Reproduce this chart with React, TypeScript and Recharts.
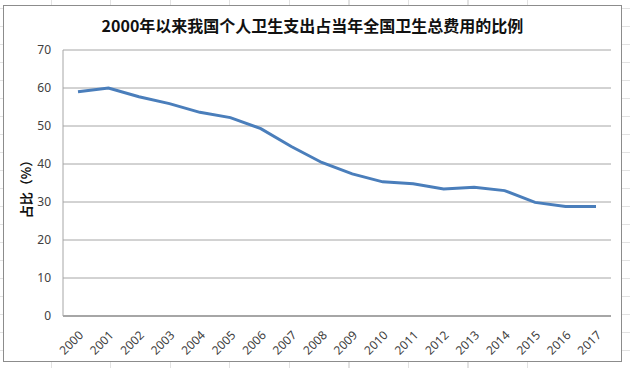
import { LineChart, Line, XAxis, YAxis, CartesianGrid } from 'recharts';

const years = ['2000', '2001', '2002', '2003', '2004', '2005', '2006', '2007', '2008', '2009', '2010', '2011', '2012', '2013', '2014', '2015', '2016', '2017'];
const shares = [59.0, 60.0, 57.7, 55.9, 53.6, 52.2, 49.3, 44.6, 40.4, 37.4, 35.3, 34.8, 33.4, 33.9, 33.0, 29.9, 28.8, 28.8];
const yTicks = [0, 10, 20, 30, 40, 50, 60, 70];

const data = years.map((year, i) => ({ year, share: shares[i] }));

const FONT = '"Noto Sans", "Noto Sans CJK SC", sans-serif';

// rotated year labels, Excel style
const YearTick = (props: any) => {
  const { x, y, payload } = props;
  const tx = x + 6;
  const ty = y + 12;
  return (
    <text
      x={tx}
      y={ty}
      transform={`rotate(-45, ${tx}, ${ty})`}
      textAnchor="end"
      fontSize={12}
      fill="#404040"
      fontFamily={FONT}
    >
      {payload.value}
    </text>
  );
};

export default function App() {
  return (
    <div
      style={{
        position: 'absolute',
        left: 0,
        top: 0,
        width: 630,
        height: 368,
        background: '#fff',
        backgroundImage:
          'repeating-linear-gradient(90deg, transparent 0 51px, #e2e2e2 51px 52px, transparent 52px 59.5px), repeating-linear-gradient(0deg, transparent 0 17px, #e2e2e2 17px 18px)',
      }}
    >
      <div
        style={{
          position: 'absolute',
          left: 3,
          top: 5,
          width: 617,
          height: 355,
          border: '1px solid #8c8c8c',
          background: '#fff',
        }}
      >
        <div
          style={{
            position: 'absolute',
            left: 0,
            top: 7,
            width: 617,
            textAlign: 'center',
            fontFamily: '"Noto Sans CJK SC", sans-serif',
            fontWeight: 'bold',
            fontSize: 16,
            color: '#111',
          }}
        >
          2000年以来我国个人卫生支出占当年全国卫生总费用的比例
        </div>
        <div
          style={{
            position: 'absolute',
            left: 21,
            top: 180,
            transform: 'translate(-50%, -50%) rotate(-90deg)',
            whiteSpace: 'nowrap',
            fontFamily: '"Noto Sans CJK SC", sans-serif',
            fontWeight: 'bold',
            fontSize: 13,
            color: '#111',
          }}
        >
          占比（%）
        </div>
        <LineChart
          width={617}
          height={355}
          data={data}
          margin={{ top: 44, right: 10, bottom: 0, left: 0 }}
          style={{ position: 'absolute', left: 0, top: 0 }}
        >
          <CartesianGrid horizontal vertical={false} stroke="#a6a6a6" strokeWidth={1} />
          <XAxis
            dataKey="year"
            height={45}
            padding={{ left: 15, right: 15 }}
            interval={0}
            tickLine={false}
            axisLine={{ stroke: '#a6a6a6', strokeWidth: 2 }}
            tick={<YearTick />}
          />
          <YAxis
            width={59}
            domain={[0, 70]}
            ticks={yTicks}
            interval={0}
            tickLine={false}
            axisLine={{ stroke: '#a6a6a6', strokeWidth: 1 }}
            tickMargin={6}
            tick={{ fontSize: 12, fill: '#404040', fontFamily: FONT }}
          />
          <Line
            type="linear"
            dataKey="share"
            stroke="#4a7ebb"
            strokeWidth={3}
            dot={false}
            isAnimationActive={false}
          />
        </LineChart>
      </div>
    </div>
  );
}
